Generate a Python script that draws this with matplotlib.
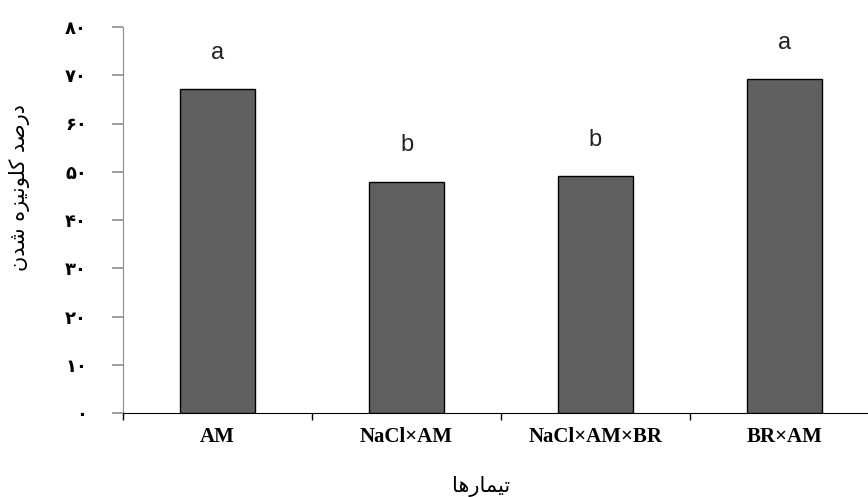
import matplotlib
matplotlib.use("Agg")
import matplotlib.pyplot as plt
from matplotlib.ticker import FixedLocator

categories = ["AM", "NaCl×AM", "NaCl×AM×BR", "BR×AM"]
values = [67.1, 47.9, 49.1, 69.2]
letters = ["a", "b", "b", "a"]
y_ticks = [0, 10, 20, 30, 40, 50, 60, 70, 80]
y_tick_labels = ["۰", "۱۰", "۲۰", "۳۰", "۴۰", "۵۰", "۶۰", "۷۰", "۸۰"]
y_label = "درصد کلونیزه شدن"
x_label = "تیمارها"

# contextual forms: (isolated, final, initial, medial)
FORMS = {
    "ا": ("\uFE8D", "\uFE8E"),
    "د": ("\uFEA9", "\uFEAA"),
    "ر": ("\uFEAD", "\uFEAE"),
    "ز": ("\uFEAF", "\uFEB0"),
    "و": ("\uFEED", "\uFEEE"),
    "ص": ("\uFEB9", "\uFEBA", "\uFEBB", "\uFEBC"),
    "ش": ("\uFEB5", "\uFEB6", "\uFEB7", "\uFEB8"),
    "ت": ("\uFE95", "\uFE96", "\uFE97", "\uFE98"),
    "م": ("\uFEE1", "\uFEE2", "\uFEE3", "\uFEE4"),
    "ن": ("\uFEE5", "\uFEE6", "\uFEE7", "\uFEE8"),
    "ل": ("\uFEDD", "\uFEDE", "\uFEDF", "\uFEE0"),
    "ه": ("\uFEE9", "\uFEEA", "\uFEEB", "\uFEEC"),
    "ک": ("\uFB8E", "\uFB8F", "\uFB90", "\uFB91"),
    "ی": ("\uFBFC", "\uFBFD", "\uFBFE", "\uFBFF"),
}


def shape(text):
    out = []
    for i, ch in enumerate(text):
        if ch not in FORMS:
            out.append(ch)
            continue
        prev = text[i - 1] if i > 0 else None
        nxt = text[i + 1] if i + 1 < len(text) else None
        join_prev = prev in FORMS and len(FORMS[prev]) == 4
        join_next = len(FORMS[ch]) == 4 and nxt in FORMS
        f = FORMS[ch]
        if join_prev and join_next:
            out.append(f[3])
        elif join_prev:
            out.append(f[1])
        elif join_next:
            out.append(f[2])
        else:
            out.append(f[0])
    return "".join(reversed(out))


fig = plt.figure(figsize=(8.68, 4.97), dpi=100)
ax = fig.add_axes([123 / 868, 84 / 497, 756 / 868, 386 / 497])

x = range(len(categories))
ax.bar(x, values, width=0.4, color="#606060", edgecolor="black", linewidth=1)
for xi, v, l in zip(x, values, letters):
    ax.text(xi, v + 6.3, l, ha="center", va="baseline", fontsize=17,
            family="Liberation Sans", color="#222222")

ax.set_xlim(-0.5, 3.5)
ax.set_ylim(0, 80)

ax.spines["top"].set_visible(False)
ax.spines["right"].set_visible(False)
ax.spines["left"].set_color("#8c8c8c")
ax.spines["bottom"].set_color("black")

ax.set_yticks(y_ticks)
ax.set_yticklabels(y_tick_labels, family="DejaVu Sans", fontsize=13, fontweight="bold")
ax.tick_params(axis="y", direction="out", length=8, width=1.2, color="#8c8c8c", pad=18)

ax.set_xticks(list(x))
ax.set_xticklabels(categories, family="Liberation Serif", fontsize=15, fontweight="bold")
ax.tick_params(axis="x", which="major", length=0, pad=10)
ax.xaxis.set_minor_locator(FixedLocator([-0.5, 0.5, 1.5, 2.5, 3.5]))
ax.tick_params(axis="x", which="minor", direction="out", length=5, width=1, color="black")

ax.set_ylabel(shape(y_label), family="DejaVu Sans", fontsize=15, rotation=90, va="center")
ax.yaxis.set_label_coords(-0.137, 0.585)
ax.set_xlabel(shape(x_label), family="DejaVu Sans", fontsize=15, va="center")
ax.xaxis.set_label_coords((481 - 123) / 756, -0.19)

fig.savefig("out.png", dpi=100)
